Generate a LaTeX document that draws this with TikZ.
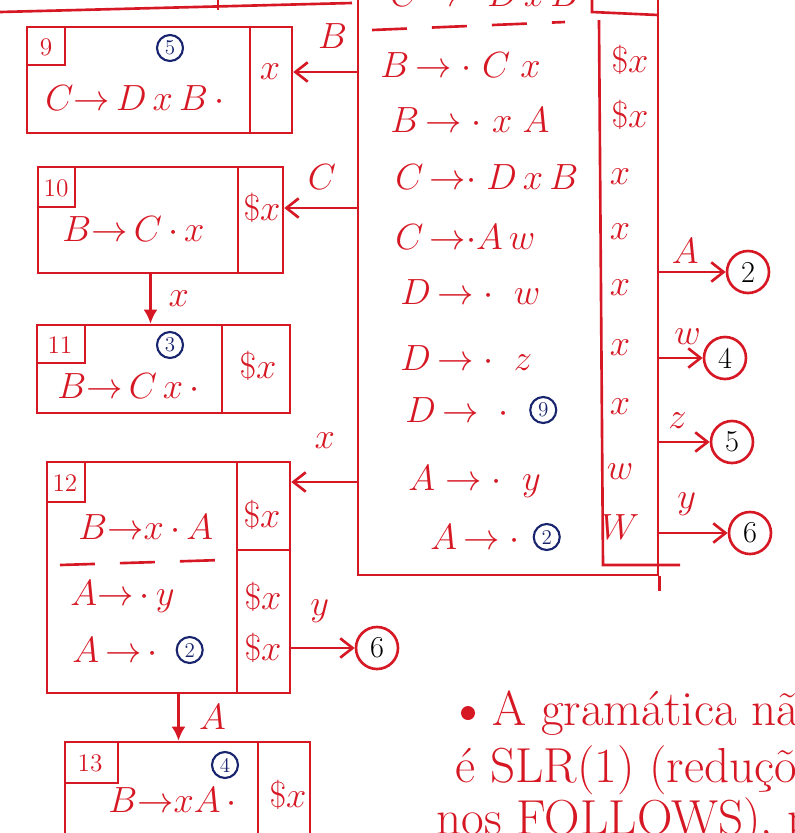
\documentclass[tikz,border=0pt]{standalone}
\usepackage{xcolor}
\usetikzlibrary{arrows.meta, positioning}
\definecolor{inkred}{RGB}{214,24,36}
\definecolor{inkblue}{RGB}{24,36,110}
\newcommand{\inksize}{\fontsize{22}{26}\selectfont}

\begin{document}
\begin{tikzpicture}[x=0.02cm, y=-0.02cm,
  ink/.style={draw=inkred, line width=1.5pt},
  statebox/.style={ink, rectangle, inner sep=0pt},
  item/.style={text=inkred, anchor=west, inner sep=0pt, font=\inksize},
  look/.style={text=inkred, inner sep=0pt, font=\inksize},
  tabnum/.style={text=inkred, inner sep=0pt, font=\Large},
  kernel/.style={circle, draw=inkblue, text=inkblue, line width=1.2pt, minimum size=0.52cm, inner sep=0pt, font=\large},
  target/.style={circle, draw=inkred, line width=1.5pt, minimum size=0.84cm, inner sep=0pt, font=\LARGE},
  trans/.style={ink, -{Straight Barb[length=7pt,width=11pt]}},
  down/.style={ink, -{Latex[length=8pt,width=8pt]}},
  lab/.style={text=inkred, inner sep=1pt, font=\inksize},
  note/.style={text=inkred, anchor=west, inner sep=0pt, font=\fontsize{28}{32}\selectfont},
  sep/.style={ink, dash pattern=on 0.7cm off 0.5cm}
]
\clip (0,0) rectangle (795,833);

% state above, cut off
\draw[ink] (0,12) -- (352,3);
\draw[ink] (218,0) -- (218,10);

% big state
\node[statebox, minimum width=6cm, minimum height=11.9cm] (s8) at (508,277.5) {};
\draw[ink] (592,-20) -- (592,12) -- (658,15);
\draw[ink] (599,20) -- (603,565) -- (680,565);
\draw[ink] (s8.south east) -- ++(0,15);
\draw[sep] (372,30) -- (565,22);

\node[item] (i0) at (390,-6) {$C\,{\to}\,{\cdot}\;D\,x\,B$};
\node[item] (i1) at (380,65) {$B\,{\to}\;{\cdot}\;C\;x$};
\node[item] (i2) at (390,120) {$B\,{\to}\;{\cdot}\;x\;A$};
\node[item] (i3) at (395,177) {$C\,{\to}{\cdot}\;D\,x\,B$};
\node[item] (i4) at (395,237) {$C\,{\to}{\cdot}A\,w$};
\node[item] (i5) at (400,292) {$D\,{\to}\;{\cdot}\;\;w$};
\node[item] (i6) at (400,358) {$D\,{\to}\;{\cdot}\;\;z$};
\node[item] (i7) at (405,410) {$D\,{\to}\;\;{\cdot}$};
\node[kernel, right=0.4cm of i7] (k7) {9};
\node[item] (i8) at (408,482) {$A\;{\to}\;{\cdot}\;\;y$};
\node[item] (i9) at (430,537) {$A\,{\to}\;{\cdot}$};
\node[kernel, right=0.25cm of i9] (k9b) {2};

\foreach \x/\y/\t [count=\k] in {630/60/\$x, 630/115/\$x, 620/177/x, 620/232/x,
    620/288/x, 620/348/x, 620/407/x, 620/472/w, 620/527/W}
  \node[look] (la\k) at (\x,\y) {$\t$};

% gotos out of the big state
\node[target] (g2) at (748,272) {2};
\node[target] (g4) at (725,358) {4};
\node[target] (g5) at (732,442) {5};
\node[target] (g6) at (750,533) {6};
\draw[trans] (s8.east |- g2) -- node[lab, above=3pt, pos=0.39] (lA) {$A$} (g2);
\draw[trans] (s8.east |- g4) -- node[lab, above=6pt, pos=0.65] (lw) {$w$} (g4);
\draw[trans] (s8.east |- g5) -- node[lab, above=6pt, pos=0.36] (lz) {$z$} (g5);
\draw[trans] (s8.east |- g6) -- node[lab, above=8pt, pos=0.4] (ly) {$y$} (g6);

% state 9
\node[statebox, minimum width=5.3cm, minimum height=2.12cm] (s9) at (159.5,80) {};
\draw[ink] (250,27) -- (250,133);
\draw[ink] (27,65) -| (65,27);
\node[tabnum] (t9) at (46,47) {9};
\node[kernel] (k9) at (170,48) {5};
\node[item] (p9) at (45,98) {$C{\to}\,D\,x\,B\,{\cdot}$};
\node[look] (l9) at (270,72) {$x$};

% state 10
\node[statebox, minimum width=4.9cm, minimum height=2.12cm] (s10) at (160.5,220) {};
\draw[ink] (238,167) -- (238,273);
\draw[ink] (38,207) -| (75,167);
\node[tabnum] (t10) at (56,188) {10};
\node[item] (p10) at (62,229) {$B{\to}\,C\,{\cdot}\,x$};
\node[look] (l10) at (262,208) {$\$x$};

% state 11
\node[statebox, minimum width=5.06cm, minimum height=1.76cm] (s11) at (163.5,369) {};
\draw[ink] (222,325) -- (222,413);
\draw[ink] (37,363) -| (85,325);
\node[tabnum] (t11) at (60,345) {11};
\node[kernel] (k11) at (170,345) {3};
\node[item] (p11) at (57,386) {$B{\to}\,C\,x\,{\cdot}$};
\node[look] (l11) at (258,366) {$\$x$};

% state 12
\node[statebox, minimum width=4.86cm, minimum height=4.62cm] (s12) at (168.5,577.5) {};
\draw[ink] (237,462) -- (237,693);
\draw[ink] (237,550) -- (290,550);
\draw[sep] (60,565) -- (222,560);
\draw[ink] (47,502) -| (85,462);
\node[tabnum] (t12) at (65,483) {12};
\node[item] (p12a) at (78,527) {$B{\to}x\,{\cdot}\,A$};
\node[look] (l12a) at (262,515) {$\$x$};
\node[item] (p12b) at (70,597) {$A{\to}\,{\cdot}\,y$};
\node[look] (l12b) at (263,597) {$\$x$};
\node[item] (p12c) at (72,650) {$A\,{\to}\,{\cdot}$};
\node[kernel, right=0.35cm of p12c] (k12) {2};
\node[look] (l12c) at (263,648) {$\$x$};
\node[target] (g6b) at (377,648) {6};

% state 13
\node[statebox, minimum width=4.9cm, minimum height=2.36cm] (s13) at (187.5,801) {};
\draw[ink] (258,742) -- (258,860);
\draw[ink] (65,783) -| (118,742);
\node[tabnum] (t13) at (90,763) {13};
\node[kernel] (k13) at (225,765) {4};
\node[item] (p13) at (108,800) {$B{\to}xA\,{\cdot}$};
\node[look] (l13) at (288,795) {$\$x$};

% gotos on the left
\draw[trans] (s8.west |- l9) -- node[lab, above=0.4cm, pos=0.38] (lB) {$B$} (s9.east |- l9);
\draw[trans] (s8.west |- l10) -- node[lab, above=0.3cm, pos=0.48] (lC) {$C$} (s10.east |- l10);
\draw[trans] (s8.west |- i8) -- node[lab, above=0.6cm, pos=0.49] (lx) {$x$} (s12.east |- i8);
\draw[down] ([xshift=-0.2cm]s10.south) -- node[lab, right=0.3cm] (lx10) {$x$} ([xshift=-0.2cm]s10.south |- s11.north);
\draw[down] ([xshift=0.2cm]s12.south) -- node[lab, right=0.35cm] (lA12) {$A$} ([xshift=0.2cm]s12.south |- s13.north);
\draw[trans] (s12.east |- g6b) -- node[lab, above=0.45cm, pos=0.45] (ly12) {$y$} (g6b);

% remark
\fill[inkred] (468,713) circle[radius=0.14cm];
\node[note] (n1) at (492,713) {A gramática não};
\node[note] (n2) at (455,770) {é SLR(1) (reduções};
\node[note] (n3) at (436,822) {nos FOLLOWS), pois tem};
\end{tikzpicture}
\end{document}
